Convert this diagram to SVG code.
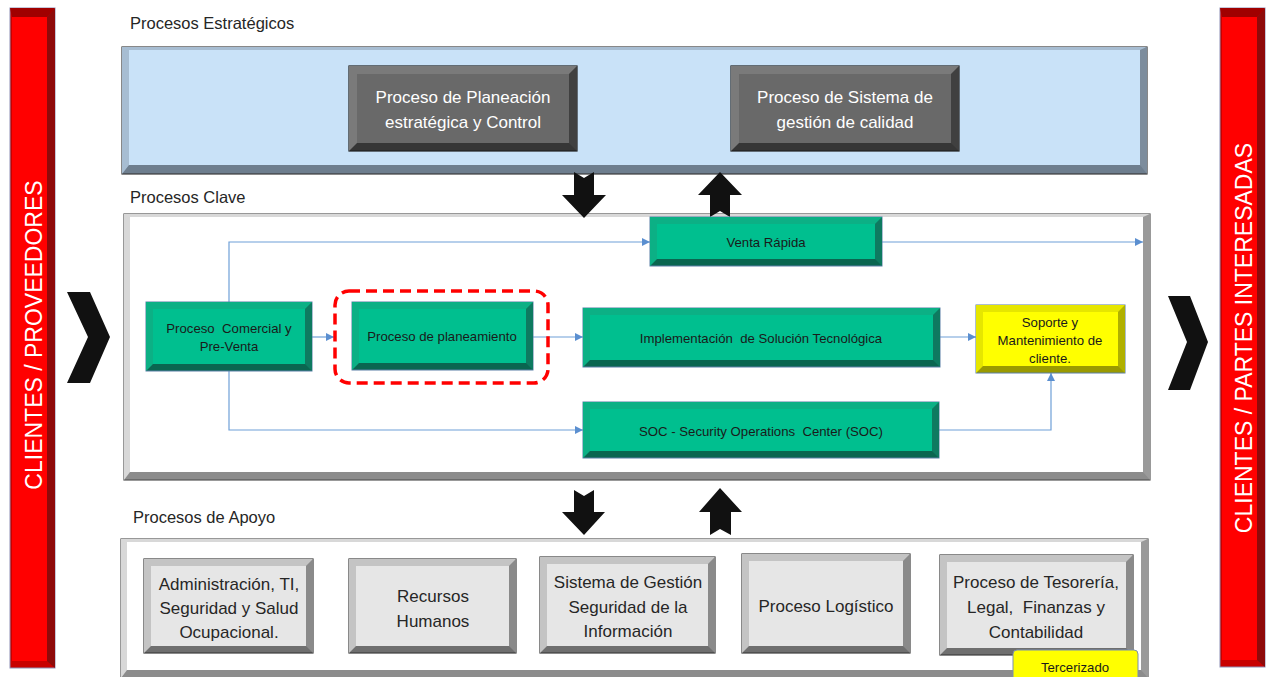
<svg xmlns="http://www.w3.org/2000/svg" width="1273" height="677" viewBox="0 0 1273 677">
<style>
text{font-family:"Liberation Sans",Arial,sans-serif}
.lbl{font-size:16.5px;fill:#262626}
.bar{font-size:23px;fill:#ffffff;text-anchor:middle}
.wt{font-size:17px;fill:#ffffff;text-anchor:middle}
.gt{font-size:13.2px;fill:#1a1a1a;text-anchor:middle}
.at{font-size:17px;fill:#262626;text-anchor:middle}
.gb{stroke:#5b7fa6;stroke-width:1}
.gb-o{fill:#0a6650}.gb-r{fill:#0e7a60}.gb-l{fill:#0cb085}.gb-f{fill:#00bf8f}
.yb-o{fill:#9a9a00}.yb-r{fill:#b0b000}.yb-l{fill:#e6e600}.yb-f{fill:#ffff00}
.db{stroke:#1e1e1e;stroke-width:1.2}
.db-o{fill:#363636}.db-r{fill:#404040}.db-l{fill:#7a7a7a}.db-f{fill:#696969}
.ab{stroke:#3c3c3c;stroke-width:1.2}
.ab-o{fill:#6f6f6f}.ab-r{fill:#8a8a8a}.ab-l{fill:#c4c4c4}.ab-f{fill:#e6e6e6}
.conn{fill:none;stroke:#6fa0d8;stroke-width:1.2}
.blk{fill:#111111}
</style>
<defs>
<marker id="ah" markerUnits="userSpaceOnUse" markerWidth="9" markerHeight="9" refX="8" refY="4" orient="auto">
<path d="M0,0 L8,4 L0,8 z" fill="#5b8fd0"/>
</marker>
</defs>

<!-- side bars -->
<g id="bar-left">
<rect x="10" y="8" width="45" height="660" fill="#c80000" stroke="#8d8fb5" stroke-width="1"/>
<polygon points="55,8 55,668 47,661 47,17" fill="#8e0a0a"/>
<polygon points="10,8 55,8 47,17 12,17" fill="#a00000"/>
<rect x="12" y="17" width="35" height="644" fill="#ff0000"/>
<text class="bar" transform="translate(42,335) rotate(-90)">CLIENTES / PROVEEDORES</text>
</g>
<g id="bar-right">
<rect x="1220" y="8" width="45" height="659" fill="#c80000" stroke="#8d8fb5" stroke-width="1"/>
<polygon points="1265,8 1265,667 1257,660 1257,17" fill="#8e0a0a"/>
<polygon points="1220,8 1265,8 1257,17 1222,17" fill="#a00000"/>
<rect x="1222" y="17" width="35" height="643" fill="#ff0000"/>
<text class="bar" transform="translate(1252,338) rotate(-90)">CLIENTES / PARTES INTERESADAS</text>
</g>
<g id="chevron-left"><polygon class="blk" points="67,292 90,292 110,337 90,383 67,383 88,337"/></g>
<g id="chevron-right"><polygon class="blk" points="1168,296 1190,296 1208,342 1190,390 1168,390 1187,342"/></g>

<!-- section labels -->
<text class="lbl" x="130" y="29">Procesos Estratégicos</text>
<text class="lbl" x="130" y="203">Procesos Clave</text>
<text class="lbl" x="133" y="523">Procesos de Apoyo</text>

<!-- panels -->
<g id="panel-estrategicos">
<rect x="122" y="47" width="1025" height="127" fill="#6e7e8e" stroke="#3a3a3a" stroke-width="1.2"/>
<polygon points="1147,47 1147,174 1140,165 1140,50" fill="#7d8d9d"/>
<polygon points="122,47 1147,47 1140,50 129,50 129,165 122,174" fill="#a7bdd2"/>
<rect x="129" y="50" width="1011" height="115" fill="#c9e2f8"/>
</g>
<g id="panel-clave">
<rect x="124" y="214" width="1026" height="266" fill="#8c8c8c" stroke="#555555" stroke-width="1.2"/>
<polygon points="1150,214 1150,480 1143,472 1143,217" fill="#9a9a9a"/>
<polygon points="124,214 1150,214 1143,217 130,217 130,472 124,480" fill="#d8d8d8"/>
<rect x="130" y="217" width="1013" height="255" fill="#ffffff"/>
</g>
<g id="panel-apoyo">
<rect x="121" y="539" width="1027" height="139" fill="#8c8c8c" stroke="#555555" stroke-width="1.2"/>
<polygon points="1148,539 1148,678 1141,670 1141,542" fill="#9a9a9a"/>
<polygon points="121,539 1148,539 1141,542 127,542 127,670 121,678" fill="#d8d8d8"/>
<rect x="127" y="542" width="1014" height="128" fill="#ffffff"/>
</g>

<!-- block arrows between panels -->
<g id="block-arrows">
<polygon class="blk" points="574,172 584,178 594,172 594,195 606,195 584,218 562,195 574,195"/>
<polygon class="blk" points="720,172 742,195 730,195 730,217 720,211 710,217 710,195 698,195"/>
<polygon class="blk" points="574,490 584,496 594,490 594,512 605,512 584,535 562,512 574,512"/>
<polygon class="blk" points="720,488 742,512 731,512 731,535 720,529 710,535 710,512 699,512"/>
</g>

<!-- strategic nodes -->
<g id="n-planeacion">
<rect class="db db-o" x="349" y="66" width="228" height="85"/>
<polygon class="db-r" points="577,66 577,151 569,143 569,74"/>
<polygon class="db-l" points="349,66 577,66 569,74 357,74 357,143 349,151"/>
<rect class="db-f" x="357" y="74" width="212" height="69"/>
<text class="wt" x="463" y="103">Proceso de Planeación</text>
<text class="wt" x="463" y="128">estratégica y Control</text>
</g>
<g id="n-calidad">
<rect class="db db-o" x="731" y="66" width="228" height="85"/>
<polygon class="db-r" points="959,66 959,151 951,143 951,74"/>
<polygon class="db-l" points="731,66 959,66 951,74 739,74 739,143 731,151"/>
<rect class="db-f" x="739" y="74" width="212" height="69"/>
<text class="wt" x="845" y="103">Proceso de Sistema de</text>
<text class="wt" x="845" y="128">gestión de calidad</text>
</g>

<!-- connectors -->
<g id="connectors">
<path class="conn" d="M312,337 H334" marker-end="url(#ah)"/>
<path class="conn" d="M533,337 H583" marker-end="url(#ah)"/>
<path class="conn" d="M940,337 H976" marker-end="url(#ah)"/>
<path class="conn" d="M229,302 V242 H650" marker-end="url(#ah)"/>
<path class="conn" d="M882,242 H1143" marker-end="url(#ah)"/>
<path class="conn" d="M229,371 V430 H583" marker-end="url(#ah)"/>
<path class="conn" d="M939,430 H1051 V373" marker-end="url(#ah)"/>
</g>

<!-- key process nodes -->
<g id="n-comercial">
<rect class="gb gb-o" x="146" y="302" width="166" height="69"/>
<polygon class="gb-r" points="312,302 312,371 305,364 305,309"/>
<polygon class="gb-l" points="146,302 312,302 305,309 153,309 153,364 146,371"/>
<rect class="gb-f" x="153" y="309" width="152" height="55"/>
<text class="gt" x="229" y="333" xml:space="preserve">Proceso  Comercial y</text>
<text class="gt" x="229" y="351">Pre-Venta</text>
</g>
<g id="n-planeamiento">
<rect class="gb gb-o" x="352" y="302" width="181" height="68"/>
<polygon class="gb-r" points="533,302 533,370 526,363 526,309"/>
<polygon class="gb-l" points="352,302 533,302 526,309 359,309 359,363 352,370"/>
<rect class="gb-f" x="359" y="309" width="167" height="54"/>
<text class="gt" x="442" y="341">Proceso de planeamiento</text>
<rect x="335" y="291" width="213" height="92" rx="14" fill="none" stroke="#ff0000" stroke-width="3.5" stroke-dasharray="11 6"/>
</g>
<g id="n-venta">
<rect class="gb gb-o" x="650" y="217" width="232" height="49"/>
<polygon class="gb-r" points="882,217 882,266 875,259 875,224"/>
<polygon class="gb-l" points="650,217 882,217 875,224 657,224 657,259 650,266"/>
<rect class="gb-f" x="657" y="224" width="218" height="35"/>
<text class="gt" x="766" y="247">Venta Rápida</text>
</g>
<g id="n-implementacion">
<rect class="gb gb-o" x="583" y="308" width="357" height="59"/>
<polygon class="gb-r" points="940,308 940,367 933,360 933,315"/>
<polygon class="gb-l" points="583,308 940,308 933,315 590,315 590,360 583,367"/>
<rect class="gb-f" x="590" y="315" width="343" height="45"/>
<text class="gt" x="761" y="343" xml:space="preserve">Implementación  de Solución Tecnológica</text>
</g>
<g id="n-soc">
<rect class="gb gb-o" x="583" y="402" width="356" height="56"/>
<polygon class="gb-r" points="939,402 939,458 932,451 932,409"/>
<polygon class="gb-l" points="583,402 939,402 932,409 590,409 590,451 583,458"/>
<rect class="gb-f" x="590" y="409" width="342" height="42"/>
<text class="gt" x="761" y="436" xml:space="preserve">SOC - Security Operations  Center (SOC)</text>
</g>
<g id="n-soporte">
<rect class="gb yb-o" x="976" y="305" width="149" height="68"/>
<polygon class="yb-r" points="1125,305 1125,373 1118,366 1118,312"/>
<polygon class="yb-l" points="976,305 1125,305 1118,312 983,312 983,366 976,373"/>
<rect class="yb-f" x="983" y="312" width="135" height="54"/>
<text class="gt" x="1050" y="327">Soporte y</text>
<text class="gt" x="1050" y="345">Mantenimiento de</text>
<text class="gt" x="1050" y="363">cliente.</text>
</g>

<!-- support nodes -->
<g id="n-admin">
<rect class="ab ab-o" x="144" y="559" width="169" height="94"/>
<polygon class="ab-r" points="313,559 313,653 306,646 306,566"/>
<polygon class="ab-l" points="144,559 313,559 306,566 151,566 151,646 144,653"/>
<rect class="ab-f" x="151" y="566" width="155" height="80"/>
<text class="at" x="229" y="590">Administración, TI,</text>
<text class="at" x="229" y="614">Seguridad y Salud</text>
<text class="at" x="229" y="638">Ocupacional.</text>
</g>
<g id="n-rrhh">
<rect class="ab ab-o" x="349" y="559" width="167" height="94"/>
<polygon class="ab-r" points="516,559 516,653 509,646 509,566"/>
<polygon class="ab-l" points="349,559 516,559 509,566 356,566 356,646 349,653"/>
<rect class="ab-f" x="356" y="566" width="153" height="80"/>
<text class="at" x="433" y="602">Recursos</text>
<text class="at" x="433" y="627">Humanos</text>
</g>
<g id="n-sgsi">
<rect class="ab ab-o" x="540" y="557" width="175" height="96"/>
<polygon class="ab-r" points="715,557 715,653 708,646 708,564"/>
<polygon class="ab-l" points="540,557 715,557 708,564 547,564 547,646 540,653"/>
<rect class="ab-f" x="547" y="564" width="161" height="82"/>
<text class="at" x="628" y="588">Sistema de Gestión</text>
<text class="at" x="628" y="613">Seguridad de la</text>
<text class="at" x="628" y="637">Información</text>
</g>
<g id="n-logistico">
<rect class="ab ab-o" x="742" y="554" width="168" height="99"/>
<polygon class="ab-r" points="910,554 910,653 903,646 903,561"/>
<polygon class="ab-l" points="742,554 910,554 903,561 749,561 749,646 742,653"/>
<rect class="ab-f" x="749" y="561" width="154" height="85"/>
<text class="at" x="826" y="612">Proceso Logístico</text>
</g>
<g id="n-tesoreria">
<rect class="ab ab-o" x="940" y="555" width="193" height="100"/>
<polygon class="ab-r" points="1133,555 1133,655 1126,648 1126,562"/>
<polygon class="ab-l" points="940,555 1133,555 1126,562 947,562 947,648 940,655"/>
<rect class="ab-f" x="947" y="562" width="179" height="86"/>
<text class="at" x="1036" y="588">Proceso de Tesorería,</text>
<text class="at" x="1036" y="613" xml:space="preserve">Legal,  Finanzas y</text>
<text class="at" x="1036" y="638">Contabilidad</text>
</g>
<g id="n-tercerizado">
<rect x="1013" y="650" width="125" height="32" rx="4" fill="#ffff00" stroke="#7b8fb0" stroke-width="1"/>
<text class="gt" x="1075" y="672">Tercerizado</text>
</g>
</svg>
